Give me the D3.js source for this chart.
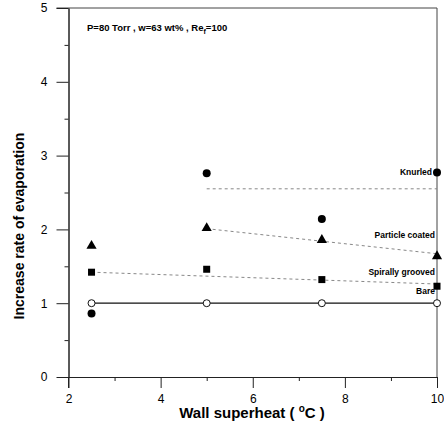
<!DOCTYPE html>
<html>
<head>
<meta charset="utf-8">
<script src="https://cdn.jsdelivr.net/npm/d3@7"></script>
<style>
  body { margin: 0; background: #fff; }
  text { font-family: "Liberation Sans", Arial, sans-serif; }
</style>
</head>
<body>
<div id="canvas"></div>
<script>
"use strict"

/* drawing size */
let svgWidth = 444;
let svgHeight = 430;
/* plot box */
let leftMargin = 68.5
let rightEdge = 437
let topMargin = 8
let bottomEdge = 377

/* data */
let superheat = [2.5, 5, 7.5, 10];
let bare = [1, 1, 1, 1];
let knurled = [0.86, 2.76, 2.14, 2.77];
let particle = [1.77, 2.01, 1.85, 1.63];
let spiral = [1.42, 1.46, 1.32, 1.23];

/* dotted fitted lines */
let knurledFitX = [5, 10];
let knurledFitY = [2.55, 2.55];
let particleFitX = [5, 10];
let particleFitY = [2.01, 1.67];
let spiralFitX = [2.5, 10];
let spiralFitY = [1.42, 1.26];

let seriesNames = ["Knurled", "Particle coated", "Spirally grooved", "Bare"];
let xTicks = [2, 4, 6, 8, 10];
let xMinorTicks = [3, 5, 7, 9];
let yTicks = [0, 1, 2, 3, 4, 5];
let yMinorTicks = [0.5, 1.5, 2.5, 3.5, 4.5];

let svg = d3.select("#canvas")
    .append("svg")
    .attr("width", svgWidth)
    .attr("height", svgHeight);

let xScale = d3.scaleLinear()
    .domain([2, 10])
    .range([leftMargin, rightEdge]);

let yScale = d3.scaleLinear()
    .domain([0, 5])
    .range([bottomEdge, topMargin]);

/* frame (top and right) */
svg.append("path")
    .attr("d", "M" + (leftMargin - 12) + "," + topMargin + "H" + rightEdge + "V" + bottomEdge)
    .attr("fill", "none")
    .attr("stroke", "#444")
    .attr("stroke-width", 1);

/* axes */
svg.append("g")
    .attr("transform", "translate(0," + bottomEdge + ")")
    .call(d3.axisBottom(xScale).tickValues(xTicks).tickSize(11).tickPadding(6)
        .tickFormat(d3.format("d")).tickSizeOuter(0));

svg.append("g")
    .attr("transform", "translate(0," + bottomEdge + ")")
    .call(d3.axisBottom(xScale).tickValues(xMinorTicks).tickSize(4).tickFormat("").tickSizeOuter(0));

svg.append("g")
    .attr("transform", "translate(" + leftMargin + ",0)")
    .call(d3.axisLeft(yScale).tickValues(yTicks).tickSize(12).tickPadding(9)
        .tickFormat(d3.format("d")).tickSizeOuter(0));

svg.append("g")
    .attr("transform", "translate(" + leftMargin + ",0)")
    .call(d3.axisLeft(yScale).tickValues(yMinorTicks).tickSize(4).tickFormat("").tickSizeOuter(0));

svg.selectAll(".domain").attr("stroke", "#222");
svg.selectAll(".tick line").attr("stroke", "#222");
svg.selectAll(".tick text")
    .attr("font-size", 12)
    .attr("fill", "#000")
    .style("font-family", "'Liberation Sans', Arial, sans-serif");

/* y axis line extends a bit below the x axis */
svg.append("line")
    .attr("x1", leftMargin)
    .attr("x2", leftMargin)
    .attr("y1", bottomEdge)
    .attr("y2", bottomEdge + 11)
    .attr("stroke", "#222");

/* fitted dotted lines */
let fits = [
    [knurledFitX, knurledFitY],
    [particleFitX, particleFitY],
    [spiralFitX, spiralFitY]
];
for (let i = 0; i < fits.length; i++) {
    svg.append("line")
        .attr("x1", xScale(fits[i][0][0]))
        .attr("y1", yScale(fits[i][1][0]))
        .attr("x2", xScale(fits[i][0][1]))
        .attr("y2", yScale(fits[i][1][1]))
        .attr("stroke", "#888")
        .attr("stroke-width", 1)
        .attr("stroke-dasharray", "3,3");
}

/* Bare: solid line */
let line = d3.line()
    .x(function (d, i) { return xScale(superheat[i]); })
    .y(function (d) { return yScale(d); });

svg.append("path")
    .datum(bare)
    .attr("d", line)
    .attr("fill", "none")
    .attr("stroke", "#111")
    .attr("stroke-width", 1.2);

/* markers */
svg.selectAll(".bare")
    .data(bare)
    .join("circle")
    .attr("cx", function (d, i) { return xScale(superheat[i]); })
    .attr("cy", function (d) { return yScale(d); })
    .attr("r", 3.5)
    .attr("fill", "#fff")
    .attr("stroke", "#111")
    .attr("stroke-width", 1);

svg.selectAll(".knurled")
    .data(knurled)
    .join("circle")
    .attr("cx", function (d, i) { return xScale(superheat[i]); })
    .attr("cy", function (d) { return yScale(d); })
    .attr("r", 4)
    .attr("fill", "#000");

let triangle = d3.symbol().type(d3.symbolTriangle).size(45);
svg.selectAll(".particle")
    .data(particle)
    .join("path")
    .attr("d", triangle)
    .attr("transform", function (d, i) {
        return "translate(" + xScale(superheat[i]) + "," + (yScale(d) - 0.5) + ")";
    })
    .attr("fill", "#000");

svg.selectAll(".spiral")
    .data(spiral)
    .join("rect")
    .attr("x", function (d, i) { return xScale(superheat[i]) - 3.5; })
    .attr("y", function (d) { return yScale(d) - 3.5; })
    .attr("width", 7)
    .attr("height", 7)
    .attr("fill", "#000");

/* series labels at the right end */
let labelValues = [knurled[3], particle[3], spiral[3], bare[3]];
let labelOffsets = [0, -21, -13, -11];
for (let i = 0; i < seriesNames.length; i++) {
    svg.append("text")
        .attr("x", xScale(10) - (i == 0 ? 5 : 2))
        .attr("y", yScale(labelValues[i]) + labelOffsets[i])
        .attr("text-anchor", "end")
        .attr("dominant-baseline", "middle")
        .attr("font-size", 8.5)
        .attr("font-weight", "bold")
        .attr("fill", "#000")
        .text(seriesNames[i]);
}

/* condition note */
let note = svg.append("text")
    .attr("x", 87)
    .attr("y", 31)
    .attr("font-size", 9.5)
    .attr("font-weight", "bold")
    .attr("fill", "#000");
note.append("tspan").text("P=80 Torr , w=63 wt% , Re");
note.append("tspan").attr("font-size", 7).attr("dy", 3).text("f");
note.append("tspan").attr("dy", -3).text("=100");

/* axis titles */
let xTitle = svg.append("text")
    .attr("x", 252)
    .attr("y", 418)
    .attr("text-anchor", "middle")
    .attr("font-size", 15)
    .attr("font-weight", "bold")
    .attr("fill", "#000");
xTitle.append("tspan").text("Wall superheat ( ");
xTitle.append("tspan").attr("font-size", 10).attr("dy", -6).text("o");
xTitle.append("tspan").attr("dy", 6).text("C )");

svg.append("text")
    .attr("transform", "translate(20,226) rotate(-90)")
    .attr("text-anchor", "middle")
    .attr("dominant-baseline", "middle")
    .attr("font-size", 14)
    .attr("font-weight", "bold")
    .attr("fill", "#000")
    .text("Increase rate of evaporation");
</script>
</body>
</html>
